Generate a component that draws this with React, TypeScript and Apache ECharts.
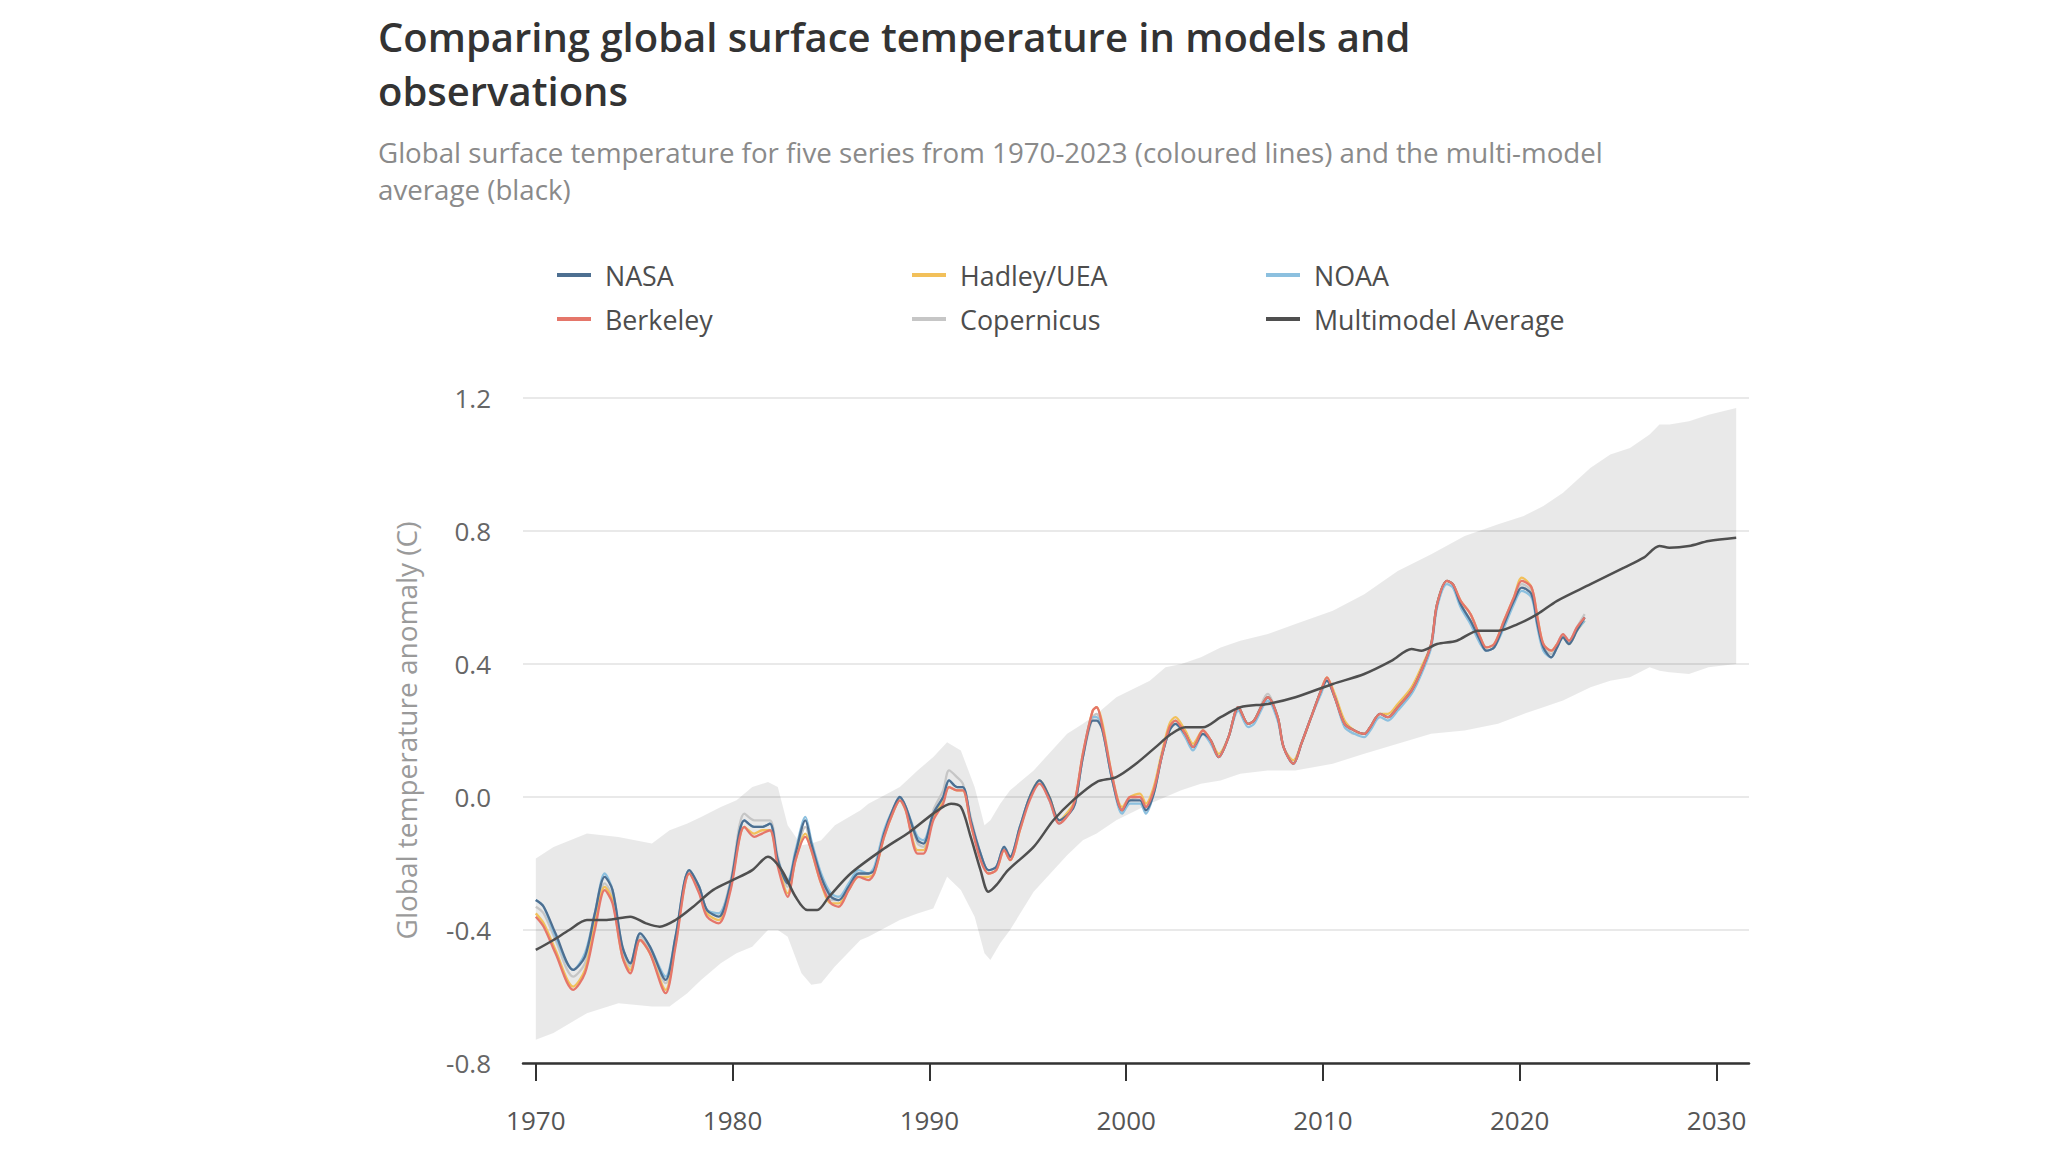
import React, { useEffect, useRef } from "react";
import * as echarts from "echarts";

const FONT = "'Open Sans', 'Noto Sans', sans-serif";

const TITLE = "Comparing global surface temperature in models and\nobservations";
const SUBTITLE =
  "Global surface temperature for five series from 1970-2023 (coloured lines) and the multi-model\naverage (black)";
const Y_TITLE = "Global temperature anomaly (C)";

const xTickValues = [1970, 1980, 1990, 2000, 2010, 2020, 2030];

const obsYears = [
  1970.0, 1970.4, 1971.0, 1971.9, 1972.5, 1973.0, 1973.5, 1973.9, 1974.4, 1974.8,
  1975.3, 1975.8, 1976.6, 1977.1, 1977.8, 1978.3, 1978.7, 1979.3, 1979.9, 1980.6,
  1981.1, 1981.5, 1981.9, 1982.3, 1982.8, 1983.2, 1983.7, 1984.0, 1984.5, 1985.0,
  1985.4, 1985.9, 1986.4, 1986.9, 1987.2, 1987.7, 1988.2, 1988.5, 1988.8, 1989.4,
  1989.7, 1990.2, 1990.7, 1991.0, 1991.4, 1991.7, 1992.1, 1992.6, 1993.0, 1993.4,
  1993.8, 1994.1, 1994.6, 1995.1, 1995.6, 1996.1, 1996.6, 1997.1, 1997.4, 1997.8,
  1998.3, 1998.5, 1998.8, 1999.3, 1999.8, 2000.2, 2000.7, 2001.0, 2001.4, 2001.8,
  2002.2, 2002.5, 2003.0, 2003.4, 2003.9, 2004.3, 2004.7, 2005.2, 2005.7, 2006.2,
  2006.5, 2007.2, 2007.7, 2008.0, 2008.5, 2008.9, 2009.4, 2009.9, 2010.2, 2010.6,
  2011.1, 2011.6, 2012.1, 2012.4, 2012.9, 2013.3, 2013.8, 2014.5, 2015.0, 2015.5,
  2015.8, 2016.3, 2016.6, 2017.0, 2017.5, 2018.0, 2018.3, 2018.7, 2019.2, 2019.7,
  2020.1, 2020.6, 2020.9, 2021.2, 2021.6, 2021.9, 2022.2, 2022.5, 2022.9, 2023.3,
];

const nasa = [
  -0.31, -0.33, -0.41, -0.52, -0.48, -0.35, -0.24, -0.28, -0.45, -0.5,
  -0.41, -0.45, -0.55, -0.42, -0.22, -0.27, -0.34, -0.36, -0.26, -0.07,
  -0.09, -0.09, -0.08, -0.19, -0.26, -0.17, -0.07, -0.14, -0.24, -0.3,
  -0.31, -0.27, -0.23, -0.23, -0.22, -0.11, -0.03, 0.0, -0.03, -0.13,
  -0.14, -0.05, 0.0, 0.05, 0.03, 0.03, -0.07, -0.17, -0.22, -0.21,
  -0.15, -0.18, -0.09, 0.0, 0.05, 0.0, -0.07, -0.05, -0.02, 0.12,
  0.23, 0.23, 0.2, 0.05, -0.04, -0.01, -0.01, -0.04, 0.01, 0.12,
  0.2, 0.22, 0.19, 0.15, 0.19, 0.17, 0.12, 0.18, 0.27, 0.22,
  0.23, 0.3, 0.24, 0.15, 0.1, 0.16, 0.24, 0.32, 0.35, 0.3,
  0.22, 0.2, 0.19, 0.21, 0.25, 0.24, 0.27, 0.32, 0.38, 0.46,
  0.58, 0.65, 0.64, 0.58, 0.53, 0.47, 0.44, 0.45, 0.52, 0.59,
  0.63, 0.61, 0.52, 0.45, 0.42, 0.45, 0.48, 0.46, 0.5, 0.54,
];

const noaa = [
  -0.31, -0.33, -0.42, -0.52, -0.47, -0.35, -0.23, -0.28, -0.45, -0.5,
  -0.41, -0.45, -0.54, -0.42, -0.22, -0.27, -0.34, -0.35, -0.26, -0.07,
  -0.09, -0.09, -0.08, -0.19, -0.25, -0.16, -0.06, -0.13, -0.23, -0.29,
  -0.3, -0.26, -0.22, -0.23, -0.21, -0.1, -0.03, 0.0, -0.03, -0.12,
  -0.13, -0.05, 0.0, 0.05, 0.03, 0.03, -0.07, -0.17, -0.22, -0.21,
  -0.15, -0.18, -0.09, 0.0, 0.05, -0.01, -0.08, -0.05, -0.02, 0.12,
  0.24, 0.24, 0.2, 0.05, -0.05, -0.02, -0.02, -0.05, 0.01, 0.12,
  0.2, 0.22, 0.18, 0.14, 0.19, 0.16, 0.12, 0.18, 0.26, 0.21,
  0.22, 0.29, 0.23, 0.15, 0.1, 0.16, 0.24, 0.31, 0.35, 0.3,
  0.21, 0.19, 0.18, 0.2, 0.24, 0.23, 0.26, 0.31, 0.37, 0.45,
  0.57, 0.64, 0.63, 0.57, 0.52, 0.46, 0.44, 0.45, 0.51, 0.58,
  0.62, 0.6, 0.51, 0.44, 0.42, 0.45, 0.48, 0.46, 0.5, 0.53,
];

const berkeley = [
  -0.36, -0.39, -0.47, -0.58, -0.53, -0.4, -0.28, -0.32, -0.48, -0.53,
  -0.43, -0.47, -0.59, -0.45, -0.23, -0.29, -0.36, -0.38, -0.28, -0.09,
  -0.12, -0.11, -0.1, -0.21, -0.3, -0.19, -0.12, -0.16, -0.26, -0.32,
  -0.33, -0.28, -0.24, -0.25, -0.23, -0.12, -0.04, -0.01, -0.04, -0.17,
  -0.17, -0.07, -0.02, 0.03, 0.02, 0.02, -0.08, -0.19, -0.23, -0.22,
  -0.16, -0.19, -0.1, -0.01, 0.04, -0.01, -0.08, -0.05, -0.01, 0.13,
  0.26, 0.27, 0.21, 0.06, -0.04, 0.0, 0.0, -0.03, 0.02, 0.12,
  0.21, 0.23, 0.19, 0.15, 0.2, 0.17, 0.12, 0.18, 0.27, 0.22,
  0.23, 0.3, 0.24, 0.15, 0.1, 0.16, 0.24, 0.32, 0.36, 0.3,
  0.22, 0.2, 0.19, 0.21, 0.25, 0.24, 0.27, 0.32, 0.38, 0.46,
  0.58, 0.65, 0.64, 0.59, 0.55, 0.48, 0.45, 0.46, 0.53, 0.6,
  0.65, 0.63, 0.54, 0.46, 0.44, 0.46, 0.49, 0.47, 0.51, 0.54,
];

const hadley = [
  -0.35, -0.38, -0.46, -0.57, -0.52, -0.38, -0.27, -0.31, -0.48, -0.52,
  -0.43, -0.47, -0.58, -0.44, -0.23, -0.28, -0.35, -0.37, -0.27, -0.09,
  -0.11, -0.1, -0.1, -0.2, -0.29, -0.19, -0.11, -0.16, -0.26, -0.32,
  -0.32, -0.28, -0.24, -0.24, -0.23, -0.12, -0.04, -0.01, -0.04, -0.16,
  -0.16, -0.06, -0.01, 0.03, 0.02, 0.02, -0.08, -0.18, -0.23, -0.22,
  -0.16, -0.19, -0.1, 0.0, 0.05, 0.0, -0.07, -0.04, -0.01, 0.13,
  0.26, 0.27, 0.22, 0.06, -0.03, 0.0, 0.01, -0.02, 0.03, 0.13,
  0.22, 0.24, 0.2, 0.16, 0.2, 0.17, 0.13, 0.18, 0.27, 0.22,
  0.23, 0.3, 0.24, 0.15, 0.11, 0.16, 0.24, 0.32, 0.36, 0.31,
  0.23, 0.2, 0.19, 0.21, 0.25, 0.25, 0.28, 0.33, 0.39, 0.46,
  0.58, 0.65, 0.64, 0.59, 0.55, 0.48, 0.45, 0.46, 0.53, 0.6,
  0.66, 0.63, 0.54, 0.46, 0.44, 0.46, 0.48, 0.46, 0.5, 0.53,
];

const copernicus = [
  -0.33, -0.35, -0.43, -0.54, -0.5, -0.37, -0.26, -0.3, -0.46, -0.51,
  -0.42, -0.46, -0.56, -0.43, -0.22, -0.27, -0.34, -0.35, -0.25, -0.05,
  -0.07, -0.07, -0.07, -0.18, -0.27, -0.18, -0.09, -0.15, -0.25, -0.31,
  -0.31, -0.27, -0.23, -0.23, -0.22, -0.11, -0.03, 0.0, -0.03, -0.14,
  -0.15, -0.04, 0.02, 0.08, 0.06, 0.04, -0.06, -0.17, -0.22, -0.21,
  -0.15, -0.18, -0.09, 0.0, 0.05, 0.0, -0.07, -0.05, -0.02, 0.12,
  0.24, 0.25, 0.2, 0.05, -0.04, -0.01, 0.0, -0.03, 0.02, 0.12,
  0.21, 0.23, 0.19, 0.15, 0.2, 0.17, 0.12, 0.18, 0.27, 0.22,
  0.23, 0.31, 0.24, 0.15, 0.1, 0.16, 0.24, 0.32, 0.35, 0.3,
  0.22, 0.19, 0.19, 0.21, 0.25, 0.24, 0.27, 0.32, 0.38, 0.46,
  0.58, 0.65, 0.64, 0.58, 0.53, 0.47, 0.44, 0.45, 0.52, 0.59,
  0.64, 0.62, 0.53, 0.45, 0.43, 0.46, 0.49, 0.47, 0.51, 0.55,
];

const modelYears = [
  1970.0, 1970.9, 1971.7, 1972.6, 1973.6, 1974.8, 1975.6, 1976.3, 1977.1, 1978.0,
  1979.0, 1980.0, 1981.0, 1981.8, 1982.5, 1983.2, 1983.8, 1984.3, 1984.9, 1986.0,
  1987.7, 1989.0, 1990.2, 1991.1, 1991.6, 1992.1, 1992.6, 1993.0, 1993.4, 1994.0,
  1995.3, 1996.3, 1997.3, 1998.5, 1999.5, 2000.5, 2001.5, 2002.3, 2003.0, 2003.9,
  2004.8, 2005.8, 2007.2, 2008.6, 2010.5, 2012.1, 2013.5, 2014.5, 2015.0, 2015.8,
  2016.8, 2017.9, 2018.9, 2019.9, 2020.9, 2021.9, 2023.6, 2025.3, 2026.3, 2027.1,
  2027.6, 2028.6, 2029.6, 2031.0,
];

const modelAverage = [
  -0.46, -0.43, -0.4, -0.37, -0.37, -0.36, -0.38, -0.39, -0.37, -0.33,
  -0.28, -0.25, -0.22, -0.18, -0.22, -0.3, -0.34, -0.34, -0.3, -0.23,
  -0.155, -0.105, -0.05, -0.02, -0.03, -0.12, -0.22, -0.285, -0.265, -0.22,
  -0.15, -0.07, -0.01, 0.045, 0.06, 0.1, 0.15, 0.19, 0.21, 0.21,
  0.24, 0.27, 0.28, 0.3, 0.34, 0.37, 0.41, 0.445, 0.44, 0.46,
  0.47, 0.5, 0.5, 0.52, 0.55, 0.59, 0.64, 0.69, 0.72, 0.755,
  0.75, 0.755, 0.77, 0.78,
];

const bandYears = [
  1970.0, 1970.9, 1972.6, 1974.2, 1975.9, 1976.8, 1977.7, 1978.4, 1979.4, 1980.2,
  1981.0, 1981.8, 1982.3, 1982.8, 1983.5, 1984.0, 1984.5, 1985.2, 1986.5, 1986.9,
  1988.5, 1989.4, 1990.2, 1990.9, 1991.6, 1992.3, 1992.8, 1993.1, 1993.6, 1994.1,
  1995.3, 1997.0, 1997.8, 1998.5, 1999.5, 2001.2, 2002.0, 2002.8, 2003.8, 2004.8,
  2005.8, 2007.2, 2008.6, 2010.5, 2012.1, 2013.8, 2015.5, 2017.2, 2018.9, 2020.2,
  2021.2, 2022.2, 2023.6, 2024.6, 2025.6, 2026.6, 2027.1, 2027.6, 2028.6, 2029.6,
  2031.0,
];

const bandUpper = [
  -0.185, -0.15, -0.11, -0.12, -0.14, -0.1, -0.08, -0.06, -0.03, -0.01,
  0.03, 0.045, 0.03, -0.085, -0.145, -0.14, -0.13, -0.085, -0.04, -0.02,
  0.03, 0.08, 0.12, 0.165, 0.14, 0.03, -0.085, -0.07, -0.02, 0.02,
  0.08, 0.19, 0.22, 0.25, 0.3, 0.35, 0.39, 0.4, 0.42, 0.45,
  0.47, 0.49, 0.52, 0.56, 0.61, 0.68, 0.73, 0.785, 0.82, 0.845,
  0.875, 0.915, 0.99, 1.03, 1.05, 1.09, 1.12, 1.12, 1.13, 1.15,
  1.17,
];

const bandLower = [
  -0.73, -0.71, -0.65, -0.62, -0.63, -0.63, -0.59, -0.55, -0.5, -0.47,
  -0.45, -0.4, -0.4, -0.42, -0.53, -0.565, -0.56, -0.51, -0.43, -0.42,
  -0.37, -0.35, -0.335, -0.24, -0.28, -0.36, -0.47, -0.49, -0.44, -0.4,
  -0.285, -0.175, -0.13, -0.11, -0.07, -0.02, 0.0, 0.02, 0.04, 0.05,
  0.07, 0.08, 0.08, 0.1, 0.13, 0.16, 0.19, 0.2, 0.22, 0.25,
  0.27, 0.29, 0.33, 0.35, 0.36, 0.39, 0.38, 0.375, 0.37, 0.39,
  0.4,
];

const obsSeries = [
  { name: "Copernicus", values: copernicus, color: "#c6c6c6" },
  { name: "Hadley/UEA", values: hadley, color: "#f2c05a" },
  { name: "NOAA", values: noaa, color: "#8cc0df" },
  { name: "NASA", values: nasa, color: "#4d6f91" },
  { name: "Berkeley", values: berkeley, color: "#e5766a" },
];

function buildOption(): any {
  const pair = (xs: number[], ys: number[]) => xs.map((x, i) => [x, ys[i]]);

  const legendBase = {
    orient: "vertical",
    top: 260,
    padding: 0,
    itemWidth: 34,
    itemHeight: 4,
    itemGap: 14,
    icon: "rect",
    selectedMode: false,
    textStyle: {
      fontFamily: FONT,
      fontSize: 26.8,
      lineHeight: 30,
      color: "#4d4d4d",
      padding: [0, 0, 0, 9],
    },
  };

  const series: any[] = [
    {
      type: "custom",
      name: "range",
      silent: true,
      z: 1,
      clip: false,
      data: [[bandYears[0], bandLower[0]]],
      encode: { x: 0, y: 1 },
      renderItem: (_params: any, api: any) => {
        const pts: number[][] = [];
        for (let i = 0; i < bandYears.length; i++) {
          pts.push(api.coord([bandYears[i], bandUpper[i]]));
        }
        for (let i = bandYears.length - 1; i >= 0; i--) {
          pts.push(api.coord([bandYears[i], bandLower[i]]));
        }
        return {
          type: "polygon",
          shape: { points: pts },
          style: { fill: "rgba(0,0,0,0.085)" },
        };
      },
    },
    ...obsSeries.map((s) => ({
      type: "line",
      name: s.name,
      data: pair(obsYears, s.values),
      showSymbol: false,
      symbol: "none",
      smooth: 0.3,
      z: 3,
      color: s.color,
      lineStyle: { color: s.color, width: 2.3 },
    })),
    {
      type: "line",
      name: "Multimodel Average",
      data: pair(modelYears, modelAverage),
      showSymbol: false,
      symbol: "none",
      smooth: 0.3,
      z: 4,
      color: "#4f4f4f",
      lineStyle: { color: "#4f4f4f", width: 2.5 },
    },
  ];

  return {
    animation: false,
    backgroundColor: "#ffffff",
    textStyle: { fontFamily: FONT },
    title: [
      {
        text: TITLE,
        left: 378,
        top: 9,
        padding: 0,
        textStyle: {
          fontFamily: FONT,
          fontSize: 40,
          fontWeight: 600,
          lineHeight: 54,
          color: "#333333",
        },
      },
      {
        text: SUBTITLE,
        left: 378,
        top: 133,
        padding: 0,
        textStyle: {
          fontFamily: FONT,
          fontSize: 27.7,
          fontWeight: "normal",
          lineHeight: 37,
          color: "#8a8a8a",
        },
      },
    ],
    legend: [
      { ...legendBase, left: 557, data: ["NASA", "Berkeley"] },
      { ...legendBase, left: 912, data: ["Hadley/UEA", "Copernicus"] },
      { ...legendBase, left: 1266, data: ["NOAA", "Multimodel Average"] },
    ],
    grid: { left: 523, right: 299, top: 398, bottom: 89, containLabel: false },
    xAxis: {
      type: "value",
      min: 1969.35,
      max: 2031.65,
      splitLine: { show: false },
      axisLine: { show: true, onZero: false, lineStyle: { color: "#333333", width: 2.5 } },
      axisTick: {
        show: true,
        customValues: xTickValues,
        length: 18,
        lineStyle: { color: "#333333", width: 2 },
      },
      axisLabel: {
        customValues: xTickValues,
        formatter: (v: number) => String(v),
        fontFamily: FONT,
        fontSize: 26,
        color: "#555555",
        margin: 44,
      },
    },
    yAxis: {
      type: "value",
      min: -0.8,
      max: 1.2,
      interval: 0.4,
      axisLine: { show: false },
      axisTick: { show: false },
      splitLine: { lineStyle: { color: "#e2e2e2", width: 1.5 } },
      axisLabel: {
        formatter: (v: number) => v.toFixed(1),
        fontFamily: FONT,
        fontSize: 26,
        color: "#666666",
        margin: 32,
      },
      name: Y_TITLE,
      nameLocation: "middle",
      nameGap: 103,
      nameTextStyle: { fontFamily: FONT, fontSize: 28, color: "#9a9a9a" },
    },
    series,
  };
}

export default function App() {
  const ref = useRef<HTMLDivElement>(null);
  useEffect(() => {
    if (!ref.current) return;
    const chart = echarts.init(ref.current, null, { renderer: "svg" });
    chart.setOption(buildOption());
    return () => chart.dispose();
  }, []);
  return (
    <div
      ref={ref}
      style={{
        position: "fixed",
        left: 0,
        top: 0,
        width: 2048,
        height: 1152,
        background: "#ffffff",
      }}
    />
  );
}
